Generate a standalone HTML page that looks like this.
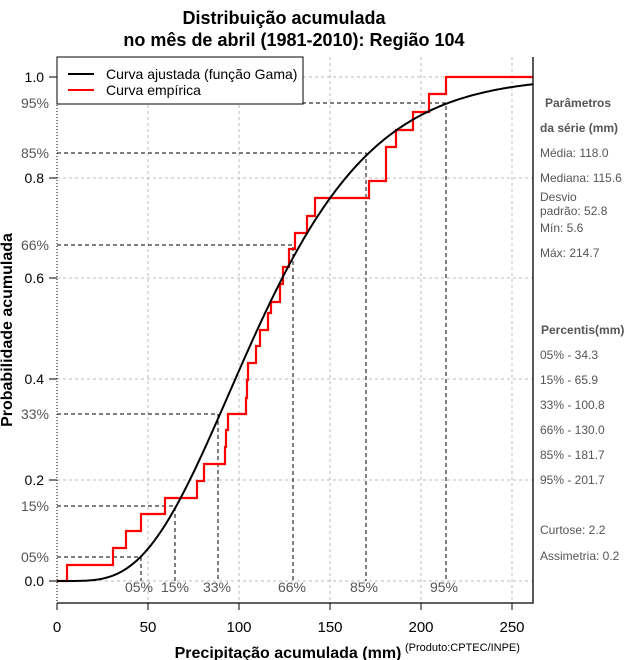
<!DOCTYPE html>
<html><head><meta charset="utf-8"><style>
body{margin:0;background:#fff}
svg{display:block;font-family:"Liberation Sans",sans-serif}
</style></head><body>
<svg id="s" width="640" height="660" viewBox="0 0 640 660" xmlns="http://www.w3.org/2000/svg">
<rect width="640" height="660" fill="#fff"/>
<g font-weight="bold" font-size="18" text-anchor="middle" fill="#000">
<text x="284" y="24">Distribuição acumulada</text>
<text x="294" y="46">no mês de abril (1981-2010): Região 104</text>
</g>
<!-- grid -->
<g stroke="#bbb" stroke-dasharray="3,3" stroke-width="1">
<line x1="148" y1="57" x2="148" y2="602"/><line x1="239" y1="57" x2="239" y2="602"/>
<line x1="330" y1="57" x2="330" y2="602"/><line x1="421" y1="57" x2="421" y2="602"/>
<line x1="512" y1="57" x2="512" y2="602"/>
<line x1="57" y1="581" x2="533" y2="581"/><line x1="57" y1="480" x2="533" y2="480"/>
<line x1="57" y1="379" x2="533" y2="379"/><line x1="57" y1="278" x2="533" y2="278"/>
<line x1="57" y1="178" x2="533" y2="178"/><line x1="57" y1="77" x2="533" y2="77"/>
</g>
<line x1="57" y1="57" x2="57" y2="602" stroke="#000" stroke-dasharray="1,2"/>
<!-- percentile dashed -->
<g stroke="#000" stroke-dasharray="4,3" stroke-width="1" fill="none">
<polyline points="57,557 141,557 141,581"/>
<polyline points="57,506 175,506 175,581"/>
<polyline points="57,414 218,414 218,581"/>
<polyline points="57,245 293,245 293,581"/>
<polyline points="57,153 366,153 366,581"/>
<polyline points="57,103 446,103 446,581"/>
</g>
<!-- empirical -->
<polyline fill="none" stroke="#f00" stroke-width="2.2" points="57,581 67,581 67,565 113,565 113,548 126,548 126,531 141,531 141,514 165,514 165,498 197,498 197,481 204,481 204,464 225,464 225,447 226,447 226,430 228,430 228,414 246,414 246,398 247,398 247,380 248,380 248,363 256,363 256,346 260,346 260,330 268,330 268,313 271,313 271,302 280,302 280,284 283,284 283,267 289,267 289,249 295,249 295,233 307,233 307,216 315,216 315,198 369,198 369,181 386,181 386,147 396,147 396,130 413,130 413,112 429,112 429,94 446,94 446,77 533,77"/>
<path id="g" fill="none" stroke="#000" stroke-width="2"/>
<!-- axes frame -->
<polyline fill="none" stroke="#000" stroke-width="1.3" points="57,603 533,603 533,57"/>
<g stroke="#000"><line x1="57" y1="603" x2="57" y2="610"/><line x1="148" y1="603" x2="148" y2="610"/><line x1="239" y1="603" x2="239" y2="610"/><line x1="330" y1="603" x2="330" y2="610"/><line x1="421" y1="603" x2="421" y2="610"/><line x1="512" y1="603" x2="512" y2="610"/>
<line x1="49" y1="581" x2="57" y2="581"/><line x1="49" y1="480" x2="57" y2="480"/><line x1="49" y1="379" x2="57" y2="379"/><line x1="49" y1="278" x2="57" y2="278"/><line x1="49" y1="178" x2="57" y2="178"/><line x1="49" y1="77" x2="57" y2="77"/></g>
<g font-size="15" text-anchor="middle" fill="#000">
<text x="57" y="632">0</text><text x="148" y="632">50</text><text x="239" y="632">100</text><text x="330" y="632">150</text><text x="421" y="632">200</text><text x="512" y="632">250</text>
</g>
<g font-size="14" text-anchor="end" fill="#000">
<text x="44" y="586">0.0</text><text x="44" y="485">0.2</text><text x="44" y="384">0.4</text><text x="44" y="283">0.6</text><text x="44" y="183">0.8</text><text x="44" y="82">1.0</text>
</g>
<g font-size="14" text-anchor="end" fill="#555">
<text x="49" y="108">95%</text><text x="49" y="158">85%</text><text x="49" y="250">66%</text><text x="49" y="419">33%</text><text x="49" y="511">15%</text><text x="49" y="562">05%</text>
</g>
<g font-size="14" text-anchor="middle" fill="#555">
<text x="139" y="592">05%</text><text x="175" y="592">15%</text><text x="217" y="592">33%</text><text x="292" y="592">66%</text><text x="364" y="592">85%</text><text x="444" y="592">95%</text>
</g>
<text x="288" y="658" font-size="16" font-weight="bold" text-anchor="middle">Precipitação acumulada (mm)</text>
<text x="405" y="651" font-size="11">(Produto:CPTEC/INPE)</text>
<text transform="translate(12,330) rotate(-90)" font-size="16" font-weight="bold" text-anchor="middle">Probabilidade acumulada</text>
<!-- legend -->
<rect x="57" y="57" width="246" height="47" fill="#fff" stroke="#000"/>
<line x1="68" y1="74" x2="94" y2="74" stroke="#000" stroke-width="2"/>
<line x1="68" y1="90" x2="94" y2="90" stroke="#f00" stroke-width="2"/>
<text x="106" y="79" font-size="14">Curva ajustada (função Gama)</text>
<text x="106" y="95" font-size="14">Curva empírica</text>
<!-- side -->
<g font-size="12" fill="#555">
<text x="545" y="107" font-weight="bold">Parâmetros</text>
<text x="540" y="132" font-weight="bold">da série (mm)</text>
<text x="540" y="157">Média: 118.0</text>
<text x="540" y="182">Mediana: 115.6</text>
<text x="540" y="201">Desvio</text>
<text x="540" y="215">padrão: 52.8</text>
<text x="540" y="232">Mín: 5.6</text>
<text x="540" y="257">Máx: 214.7</text>
<text x="541" y="334" font-weight="bold">Percentis(mm)</text>
<text x="540" y="359">05% - 34.3</text>
<text x="540" y="384">15% - 65.9</text>
<text x="540" y="409">33% - 100.8</text>
<text x="540" y="434">66% - 130.0</text>
<text x="540" y="459">85% - 181.7</text>
<text x="540" y="484">95% - 201.7</text>
<text x="540" y="534">Curtose: 2.2</text>
<text x="540" y="560">Assimetria: 0.2</text>
</g>
</svg>
<script>
(function(){
var k=4.995,th=23.63;
function lgam(z){var c=[76.18009172947146,-86.50532032941677,24.01409824083091,-1.231739572450155,0.1208650973866179e-2,-0.5395239384953e-5];var x=z,y=z,t=x+5.5;t-=(x+0.5)*Math.log(t);var s=1.000000000190015;for(var j=0;j<6;j++)s+=c[j]/++y;return -t+Math.log(2.5066282746310005*s/x);}
function P(a,x){if(x<=0)return 0;var s=1/a,t=s,n=a;for(var i=0;i<300;i++){n++;t*=x/n;s+=t;if(t<s*1e-12)break;}return s*Math.exp(-x+a*Math.log(x)-lgam(a));}
var d="";for(var px=57;px<=533;px+=1){var mm=(px-57)/1.82;var p=P(k,mm/th);var y=581-504*p;d+=(px==57?"M":"L")+px+","+y.toFixed(1)+" ";}
document.getElementById("g").setAttribute("d",d);
})();
</script>
</body></html>
